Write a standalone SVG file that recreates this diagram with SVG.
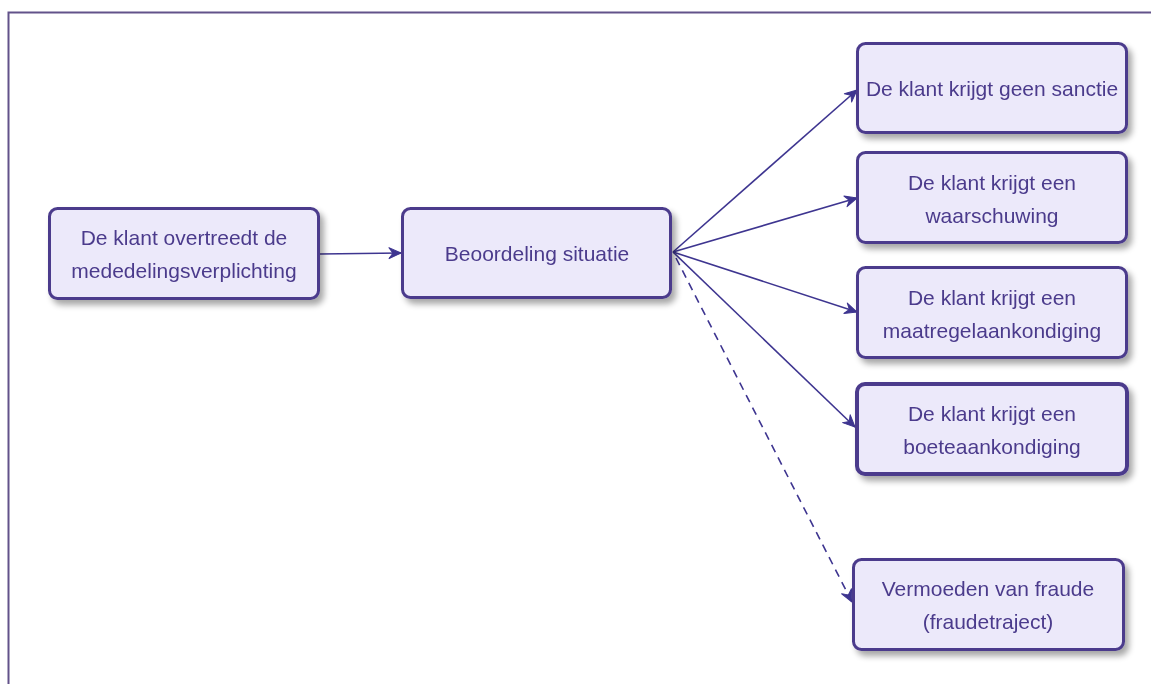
<svg xmlns="http://www.w3.org/2000/svg" width="1151" height="684" viewBox="0 0 1151 684">
<defs>
<filter id="sh" x="-10%" y="-10%" width="125%" height="135%">
<feGaussianBlur in="SourceAlpha" stdDeviation="3"/>
<feOffset dx="4" dy="5" result="b"/>
<feComponentTransfer><feFuncA type="linear" slope="0.35"/></feComponentTransfer>
<feMerge><feMergeNode/><feMergeNode in="SourceGraphic"/></feMerge>
</filter>
<marker id="ah" viewBox="0 0 14 14" refX="13" refY="7" markerWidth="14" markerHeight="14" markerUnits="userSpaceOnUse" orient="auto">
<path d="M1,1.5 L13,7 L1,12.5 L5,7 Z" fill="#3E3590" stroke="#3E3590" stroke-width="1" stroke-linejoin="round"/>
</marker>
</defs>
<style>
.node rect{fill:#ECE9FA;stroke:#4B3B8C;stroke-width:3;}
.node text{font-family:"Liberation Sans",Arial,sans-serif;font-size:21px;fill:#4B3B8C;text-anchor:middle;}
.edge{stroke:#3E3590;stroke-width:1.6;fill:none;marker-end:url(#ah);}
.dash{stroke-dasharray:8,6;}
</style>
<rect x="0" y="0" width="1151" height="684" fill="#ffffff"/>
<path d="M8.5,684 V12.5 H1151" fill="none" stroke="#62528A" stroke-width="2"/>
<g id="connectors">
<line class="edge" x1="320" y1="254" x2="401" y2="253"/>
<line class="edge" x1="673" y1="252" x2="857" y2="90"/>
<line class="edge" x1="673" y1="252" x2="857" y2="198"/>
<line class="edge" x1="673" y1="252" x2="857" y2="312"/>
<line class="edge" x1="673" y1="252" x2="855" y2="427"/>
<line class="edge dash" x1="676" y1="258" x2="852" y2="602"/>
</g>
<g id="n1" class="node" filter="url(#sh)">
<rect x="49.5" y="208.5" width="269" height="90" rx="8"/>
<text x="184" y="245">De klant overtreedt de</text>
<text x="184" y="278">mededelingsverplichting</text>
</g>
<g id="n2" class="node" filter="url(#sh)">
<rect x="402.5" y="208.5" width="268" height="89" rx="8"/>
<text x="537" y="261">Beoordeling situatie</text>
</g>
<g id="n3" class="node" filter="url(#sh)">
<rect x="857.5" y="43.5" width="269" height="89" rx="8"/>
<text x="992" y="96">De klant krijgt geen sanctie</text>
</g>
<g id="n4" class="node" filter="url(#sh)">
<rect x="857.5" y="152.5" width="269" height="90" rx="8"/>
<text x="992" y="190">De klant krijgt een</text>
<text x="992" y="223">waarschuwing</text>
</g>
<g id="n5" class="node" filter="url(#sh)">
<rect x="857.5" y="267.5" width="269" height="90" rx="8"/>
<text x="992" y="305">De klant krijgt een</text>
<text x="992" y="338">maatregelaankondiging</text>
</g>
<g id="n6" class="node" filter="url(#sh)">
<rect x="857" y="384" width="270" height="90" rx="8" style="stroke-width:4"/>
<text x="992" y="421">De klant krijgt een</text>
<text x="992" y="454">boeteaankondiging</text>
</g>
<g id="n7" class="node" filter="url(#sh)">
<rect x="853.5" y="559.5" width="270" height="90" rx="8"/>
<text x="988" y="596">Vermoeden van fraude</text>
<text x="988" y="629">(fraudetraject)</text>
</g>
</svg>
